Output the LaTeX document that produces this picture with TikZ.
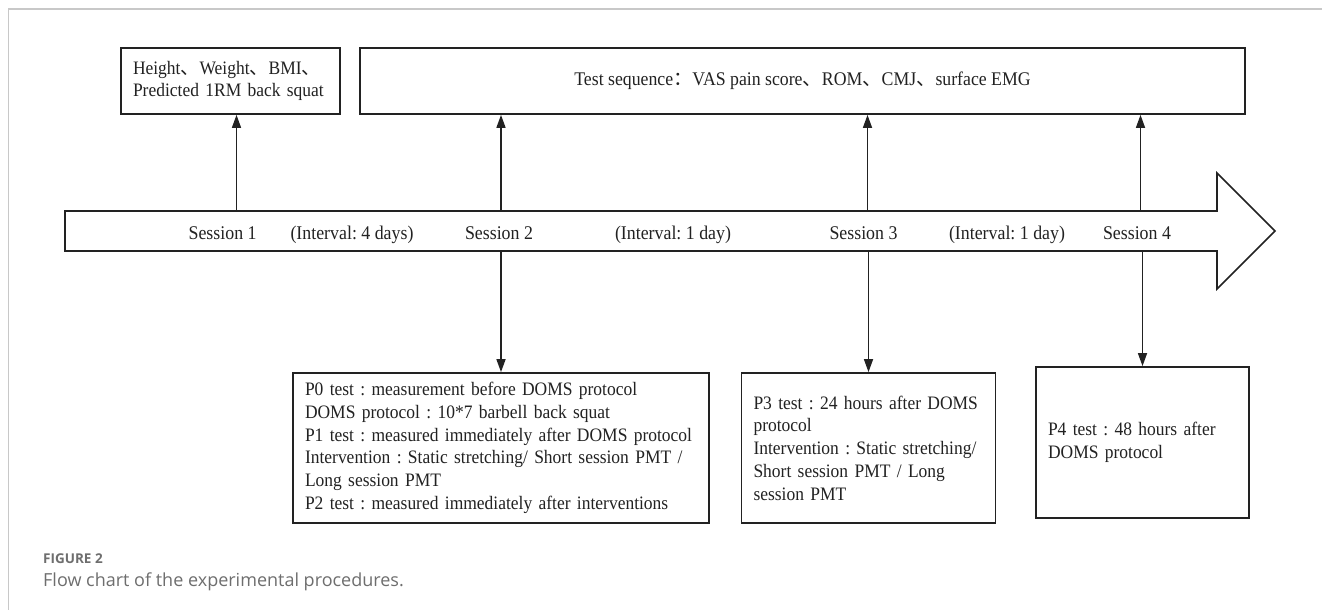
\documentclass[tikz,border=0pt]{standalone}
\usepackage{fontspec}
\setmainfont{Liberation Serif}[FakeStretch=0.92]
\newfontfamily\cjkfont{Noto Sans CJK SC}
\newfontfamily\capfont{Open Sans}
\usetikzlibrary{arrows.meta}
\definecolor{ink}{HTML}{222222}
\definecolor{framegray}{HTML}{C8C8C8}
\definecolor{capgray}{HTML}{6E6E6E}
\newcommand{\icomma}{{\cjkfont 、}}
\newcommand{\fcolon}{{\cjkfont ：}}
\newcommand{\txtline}[1]{\mbox{#1}}
\frenchspacing
\begin{document}
\begin{tikzpicture}[x=1pt,y=-1pt,
  box/.style={draw=ink, line width=1.8pt, rectangle, inner ysep=0pt, inner xsep=12pt,
    font=\fontsize{19.0}{22.7}\selectfont\frenchspacing, text=ink},
  arr/.style={draw=ink, line width=1.6pt, -{Triangle[length=13pt,width=9pt]}},
  lbl/.style={font=\fontsize{19.4}{22}\selectfont, text=ink, anchor=base, inner sep=0pt}]
\useasboundingbox (0,0) rectangle (1322,610);
\fill[white] (0,0) rectangle (1322,610);
\draw[framegray, line width=1.8pt] (8.4,610) -- (8.4,9.3) -- (1322,9.3);

% top boxes
\node[box, minimum width=219pt, minimum height=66pt, text width=195pt, align=left] (boxA) at (230.5,81)
  {\txtline{Height\icomma Weight\icomma BMI\icomma}\\\txtline{Predicted 1RM back squat}};
\node[box, minimum width=885pt, minimum height=66pt, align=center, font=\fontsize{19.3}{22.7}\selectfont] (boxB) at (802.5,81)
  {Test sequence\fcolon VAS pain score\icomma ROM\icomma CMJ\icomma surface EMG};

% timeline arrow
\draw[draw=ink, line width=1.6pt, line join=miter]
  (65,211) -- (1217,211) -- (1217,173) -- (1275,231) -- (1217,289) -- (1217,251) -- (65,251) -- cycle;

\coordinate (s1) at (236.5,211);
\coordinate (s2) at (501,211);
\coordinate (s3) at (867.5,211);
\coordinate (s4) at (1140.5,211);
\coordinate (d2) at (501,251);
\coordinate (d3) at (868.5,251);
\coordinate (d4) at (1142.5,251);

\node[lbl] (l1) at (222.6,239) {Session 1};
\node[lbl] (l2) at (352,239) {(Interval: 4 days)};
\node[lbl] (l3) at (499,239) {Session 2};
\node[lbl] (l4) at (673,239) {(Interval: 1 day)};
\node[lbl] (l5) at (863.5,239) {Session 3};
\node[lbl] (l6) at (1007,239) {(Interval: 1 day)};
\node[lbl] (l7) at (1137,239) {Session 4};

% bottom boxes
\node[box, minimum width=416pt, minimum height=150pt, text width=392pt, align=left] (P0) at (501,448)
  {\txtline{P0 test : measurement before DOMS protocol}\\
   \txtline{DOMS protocol : 10*7 barbell back squat}\\
   \txtline{P1 test : measured immediately after DOMS protocol}\\
   \txtline{Intervention : Static stretching/ Short session PMT /}\\
   \txtline{Long session PMT}\\
   \txtline{P2 test : measured immediately after interventions}};
\node[box, minimum width=254pt, minimum height=150pt, text width=230pt, align=left] (P3) at (868.5,448)
  {\txtline{P3 test : 24 hours after DOMS}\\
   \txtline{protocol}\\
   \txtline{Intervention : Static stretching/}\\
   \txtline{Short session PMT / Long}\\
   \txtline{session PMT}};
\node[box, minimum width=213pt, minimum height=151pt, text width=189pt, align=left] (P4) at (1142.5,442.5)
  {\txtline{P4 test : 48 hours after}\\
   \txtline{DOMS protocol}};

% connectors
\draw[arr] (s1) -- (s1 |- boxA.south);
\draw[arr] (s2) -- (s2 |- boxB.south);
\draw[arr] (s3) -- (s3 |- boxB.south);
\draw[arr] (s4) -- (s4 |- boxB.south);
\draw[arr] (d2) -- (P0.north);
\draw[arr] (d3) -- (P3.north);
\draw[arr] (d4) -- (P4.north);

% caption
\node[anchor=base west, inner sep=0pt, font=\capfont\bfseries\fontsize{13.5}{15}\selectfont, text=capgray] (fig) at (43,563) {FIGURE 2};
\node[anchor=base west, inner sep=0pt, font=\capfont\fontsize{18}{21}\selectfont, text=capgray] (cap) at (43,586) {Flow chart of the experimental procedures.};
\end{tikzpicture}
\end{document}
